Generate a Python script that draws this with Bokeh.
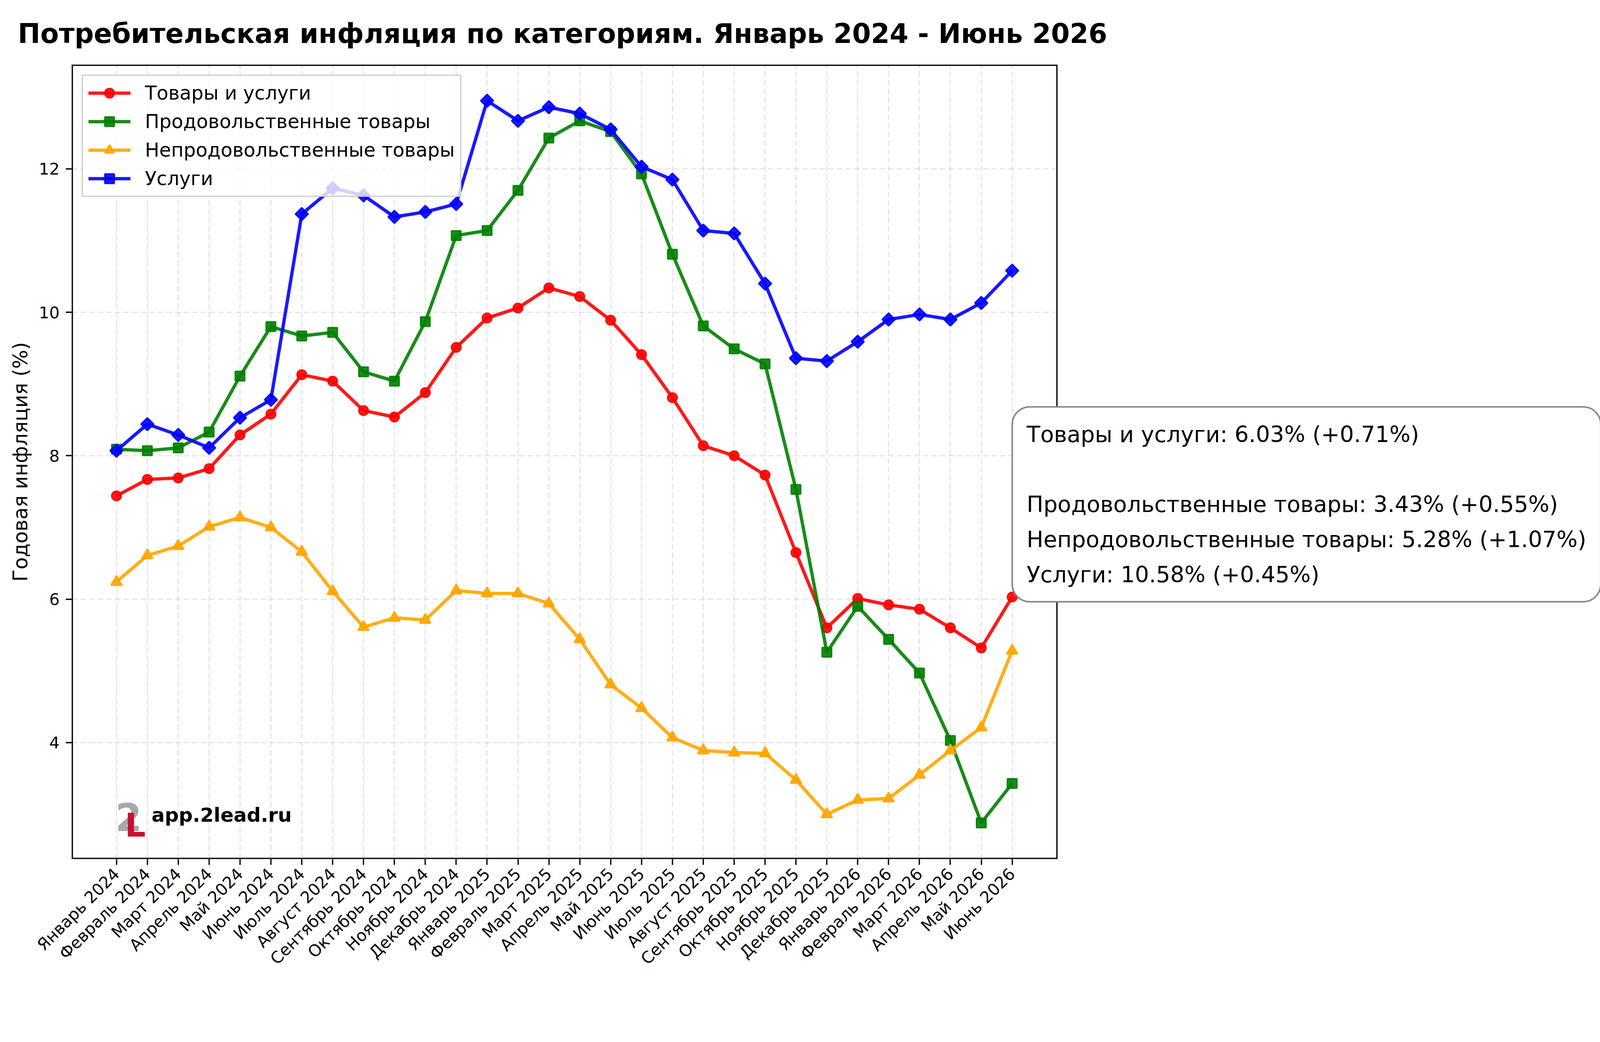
import numpy as np
from bokeh.plotting import figure
from bokeh.models import Range1d, FixedTicker, Label
from bokeh.embed import file_html
from bokeh.resources import INLINE

months = ["Январь 2024", "Февраль 2024", "Март 2024", "Апрель 2024", "Май 2024", "Июнь 2024",
          "Июль 2024", "Август 2024", "Сентябрь 2024", "Октябрь 2024", "Ноябрь 2024", "Декабрь 2024",
          "Январь 2025", "Февраль 2025", "Март 2025", "Апрель 2025", "Май 2025", "Июнь 2025",
          "Июль 2025", "Август 2025", "Сентябрь 2025", "Октябрь 2025", "Ноябрь 2025", "Декабрь 2025",
          "Январь 2026", "Февраль 2026", "Март 2026", "Апрель 2026", "Май 2026", "Июнь 2026"]

goods_services = [7.44, 7.67, 7.69, 7.82, 8.29, 8.58, 9.13, 9.04, 8.63, 8.54, 8.88, 9.51,
                  9.92, 10.06, 10.34, 10.22, 9.89, 9.41, 8.81, 8.14, 8.00, 7.73, 6.65, 5.60,
                  6.01, 5.92, 5.86, 5.60, 5.32, 6.03]
food = [8.09, 8.07, 8.11, 8.33, 9.11, 9.80, 9.67, 9.72, 9.17, 9.04, 9.87, 11.07,
        11.14, 11.70, 12.43, 12.67, 12.52, 11.93, 10.81, 9.81, 9.49, 9.28, 7.53, 5.26,
        5.90, 5.44, 4.97, 4.03, 2.88, 3.43]
nonfood = [6.24, 6.61, 6.74, 7.01, 7.14, 7.00, 6.66, 6.11, 5.61, 5.74, 5.71, 6.12,
           6.08, 6.08, 5.94, 5.44, 4.81, 4.48, 4.07, 3.89, 3.86, 3.85, 3.48, 3.00,
           3.20, 3.22, 3.55, 3.89, 4.21, 5.28]
services = [8.07, 8.44, 8.29, 8.11, 8.53, 8.78, 11.37, 11.73, 11.63, 11.33, 11.40, 11.51,
            12.95, 12.67, 12.86, 12.77, 12.55, 12.03, 11.85, 11.14, 11.10, 10.40, 9.36, 9.32,
            9.59, 9.90, 9.97, 9.90, 10.13, 10.58]

names = ["Товары и услуги", "Продовольственные товары", "Непродовольственные товары", "Услуги"]
y_ticks = [4, 6, 8, 10, 12]

title_text = "Потребительская инфляция по категориям. Январь 2024 - Июнь 2026"
ylabel_text = "Годовая инфляция (%)"
watermark_text = "app.2lead.ru"

FONT = "DejaVu Sans"
W, H = 4173, 2652
BL, BT = 183, 160                        # intended borders (screen geometry)
BT_R = 165                               # rendered top border (small measured offset)
FW_VIS, FH = 2579, 2080                  # visible axes box (target, on screen)
STRETCH = 1.0225                         # measured render stretch of the frame
BB = H - BT_R - int(round(FH / STRETCH))
FW_ALL = W - BL                          # drawing frame reaches the right edge

xs = list(range(len(months)))
allv = goods_services + food + nonfood + services
lo, hi = min(allv), max(allv)
span = hi - lo
n = len(months) - 1
x0, x1 = -0.05 * n, n * 1.05
y0, y1 = lo - 0.05 * span, hi + 0.05 * span
x1_all = x0 + FW_ALL / FW_VIS * (x1 - x0) * STRETCH


def dx(X):
    return x0 + (X - 8 - BL) / FW_VIS * (x1 - x0)


def dy(Y):
    return y1 - (Y - 8 - BT) / FH * (y1 - y0)


p = figure(width=W, height=H, x_range=Range1d(x0, x1_all), y_range=Range1d(y0, y1),
           output_backend="svg", toolbar_location=None,
           min_border_left=BL, min_border_right=0, min_border_top=BT_R, min_border_bottom=BB)
p.title.text = title_text
p.title.align = "left"
p.title.offset = -138
p.title.standoff = 79
p.title.text_font = FONT
p.title.text_font_size = "69px"
p.title.text_font_style = "bold"
p.title.text_color = "black"

p.background_fill_color = "white"
p.border_fill_color = "white"
p.outline_line_color = None

p.xaxis.ticker = FixedTicker(ticks=xs)
p.xaxis.major_label_overrides = {i: m for i, m in enumerate(months)}
p.xaxis.major_label_orientation = np.pi / 4
p.yaxis.ticker = FixedTicker(ticks=y_ticks)
for ax in (p.xaxis[0], p.yaxis[0]):
    ax.major_label_text_font = FONT
    ax.major_label_text_font_size = "41.7px"
    ax.major_label_text_color = "black"
    ax.axis_line_color = None
    ax.major_tick_out = 15
    ax.major_tick_in = 0
    ax.major_tick_line_width = 3.3
    ax.major_tick_line_color = "black"
    ax.minor_tick_line_color = None
    ax.major_label_standoff = 16
p.yaxis.axis_label = ylabel_text
p.yaxis.axis_label_text_font = FONT
p.yaxis.axis_label_text_font_size = "51px"
p.yaxis.axis_label_text_font_style = "normal"
p.yaxis.axis_label_text_color = "black"
p.yaxis.axis_label_standoff = 14

grid_color, grid_alpha, grid_dash, grid_w = "#b0b0b0", 0.3, "15 7", 3.3
p.xgrid.grid_line_color = grid_color
p.xgrid.grid_line_alpha = grid_alpha
p.xgrid.grid_line_dash = grid_dash
p.xgrid.grid_line_width = grid_w
p.ygrid.grid_line_color = None
# horizontal grid lines limited to the visible axes box
p.segment(x0=[x0] * len(y_ticks), y0=y_ticks, x1=[x1] * len(y_ticks), y1=y_ticks,
          line_color=grid_color, line_alpha=grid_alpha, line_dash=grid_dash, line_width=grid_w)

series = [
    (goods_services, "red", "circle", 24, 0.0),
    (food, "green", "square", 24, 0.0),
    (nonfood, "orange", "triangle", 28, 0.0),
    (services, "blue", "square", 23, np.pi / 4),
]
for (vals, col, mk, sz, ang), name in zip(series, names):
    p.line(xs, vals, line_color=col, line_width=8.5, line_alpha=0.9, legend_label=name)
    p.scatter(xs, vals, marker=mk, size=sz, angle=ang, fill_color=col, line_color=col,
              fill_alpha=0.9, line_alpha=0.9, line_width=4, legend_label=name)

# axes box (spines); edge ones are half-clipped by the frame, so drawn double width
p.segment(x0=[x0, x0, x0], y0=[y0, y1, y0], x1=[x0, x1, x1], y1=[y1, y1, y0],
          line_color="black", line_width=6.6)
p.segment(x0=[x1], y0=[y0], x1=[x1], y1=[y1], line_color="black", line_width=3.3)

lg = p.legend[0]
lg.location = "top_left"
lg.margin = 26
lg.padding = 14
lg.spacing = 13
lg.glyph_width = 108
lg.glyph_height = 60
lg.label_height = 60
lg.label_standoff = 37
lg.label_text_font = FONT
lg.label_text_font_size = "49px"
lg.label_text_color = "black"
lg.border_line_color = "#cccccc"
lg.border_line_width = 3.3
lg.border_line_alpha = 1.0
lg.background_fill_color = "white"
lg.background_fill_alpha = 0.8

# watermark logo + text
p.add_layout(Label(x=dx(305), y=dy(2138), text="2", text_font=FONT, text_font_size="98px",
                   text_font_style="bold", text_color="#a8a8a8", text_baseline="alphabetic"))
p.add_layout(Label(x=dx(330), y=dy(2160), text="L", text_font=FONT, text_font_size="84px",
                   text_font_style="bold", text_color="#c8102e", text_baseline="alphabetic"))
p.add_layout(Label(x=dx(400), y=dy(2133), text=watermark_text, text_font=FONT, text_font_size="50px",
                   text_font_style="bold", text_color="black", text_baseline="alphabetic"))

# summary annotation
vals_all = [goods_services, food, nonfood, services]
lines = []
for i, (nm, v) in enumerate(zip(names, vals_all)):
    lines.append(f"{nm}: {v[-1]:.2f}% ({v[-1] - v[-2]:+.2f}%)")
    if i == 0:
        lines.append("")
ann_text = "\n".join(lines)
p.add_layout(Label(x=dx(2653), y=dy(1064),
                   text=ann_text, text_font=FONT, text_font_size="57px",
                   text_color="black", text_baseline="top", text_align="left", text_line_height=1.36,
                   background_fill_color="white", background_fill_alpha=1.0,
                   border_line_color="#888888", border_line_width=4, border_radius=45, padding=37))

open("out.html", "w").write(file_html(p, INLINE))
